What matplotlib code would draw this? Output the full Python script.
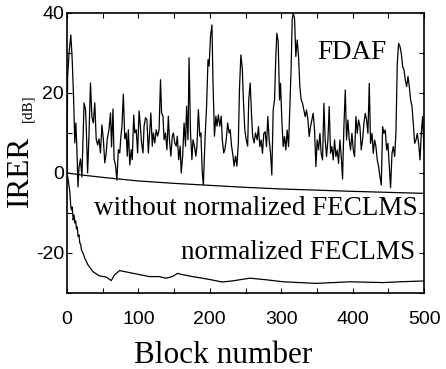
import numpy as np
import matplotlib
matplotlib.use("Agg")
import matplotlib.pyplot as plt
from matplotlib.ticker import MultipleLocator

plt.rcParams["axes.unicode_minus"] = False

# curva FDAF (leida a ojo de la figura)
fdaf_block = [0, 1, 3, 5.5, 7.5, 9.5, 11, 12.5, 14, 15.5, 17, 19, 21, 24, 26, 27, 29, 31, 33, 35,
              37, 39, 41, 43, 45, 47, 49, 51, 53, 55, 56.5, 59, 61, 62.5, 64.5, 66, 68, 70, 72, 74,
              75.5, 77, 79, 81, 83, 84.5, 86, 88, 90, 91.5, 93.5, 95, 97, 99, 101, 102.5, 104.5, 106.5, 108, 110,
              112, 114, 115.5, 117.5, 119.5, 121, 123, 125, 127, 129, 131, 132.5, 134.5, 136, 138, 140, 142, 143.5, 145.5, 147.5,
              149, 151, 153, 154.5, 156.5, 158.5, 160, 162, 164, 166, 167.5, 169.5, 171, 173, 175, 176.5, 178.5, 180.5, 182, 184,
              186, 187.5, 189.5, 191, 193.5, 195.5, 197.5, 199, 201, 203, 204.5, 206.5, 208.5, 210, 212, 214, 216, 217.5, 219.5, 221,
              223, 225, 227, 228.5, 230.5, 232.5, 234, 236, 238, 240, 241.5, 243.5, 245.5, 247, 249, 251, 253, 254.5, 256.5, 258.5,
              260, 262, 264, 266.3, 268.1, 270, 271.9, 273.7, 275.6, 277.5, 279.4, 281.2, 283.1, 285, 286.8, 288.7, 290.6, 292.4, 293.8, 295.7,
              297.6, 299, 300.8, 302.7, 304.6, 306.4, 308.3, 310.2, 312, 313.9, 315.3, 316.7, 318.6, 320.4, 322.3, 324.2, 326, 327.9, 329.8, 331.7,
              333.5, 335.4, 337.3, 339.1, 341, 342.9, 344.7, 346.6, 348.5, 350.3, 352.2, 354.1, 355.9, 357.8, 359.7, 361.5, 363.4, 365.3, 367.1, 369,
              370.9, 372.8, 374.6, 376.5, 378.4, 380.2, 382.1, 384, 385.8, 387.7, 389.6, 391.4, 393.3, 395.2, 397, 398.9, 400.8, 402.6, 404.5, 406.4,
              408.2, 410.1, 412, 413.8, 415.7, 417.6, 419.5, 421.3, 423.2, 425, 427, 428.8, 430.7, 432.5, 434.4, 436.3, 438.1, 440, 441.9, 443.7,
              445.6, 447.5, 449.3, 451.2, 453, 455, 456.8, 458.7, 460.5, 462.4, 464.3, 466.2, 468, 469.9, 471.8, 473.6, 475.5, 477.4, 479.2, 481.1,
              483, 484.8, 486.7, 488.6, 490.4, 492.3, 494.2, 496, 497.9, 499.8]
fdaf_db = [0, 24, 30, 34.5, 28, 18, 7.5, 12.5, 6, -3.5, 1.5, 3.5, -1, 17.5, 16, 12, 0, 10, 22.5, 14,
           12.5, 17.5, 8.5, 7, 8.5, 5, 12, 8.5, 2.5, 5, 8.5, 11, 15, 6.5, 16, 3.5, 2, -1.8, 5.8, 5,
           9, 11.5, 19.7, 8.5, 10, 4.2, 10.8, 2, 5.8, 3.3, 14.5, 10, 10.8, 5, 15.5, 12.5, 7.5, 5, 11.7, 13.8,
           13.3, 5, 9.2, 15, 6.7, 10, 7.5, 10.8, 9.2, 10.8, 23.3, 15, 14.2, 8.3, 10, 5.8, 14.2, 8.3, 4.2, 9.2,
           10, 7.5, 6.7, 9.2, 3.3, 6.7, 0, 4.2, 12.5, 6.7, 16.7, 8.3, 28.8, 10, 3.3, 8.3, 6.7, 4.2, 6.7, 15.8,
           9.2, 10, 0, -3, 9.2, 16.7, 28.3, 26.7, 34.2, 37, 22.5, 9.2, 14.2, 11.7, 14.5, 11.7, 14.2, 8.3, 5, 5.8,
           8.3, 12.5, 10, 10.8, 6.7, 4.2, 1.7, 4.2, 1.7, 7.9, 20.8, 29.5, 26.2, 18.3, 10.8, 8.3, 6.7, 18.3, 22.5, 14.2,
           9.2, 7.5, 10, 8.25, 11.6, 6.6, 8.25, 4.9, 9.9, 10.3, 6.6, 14.1, 8.25, 4.9, -0.5, 15.75, 18.25, 29.1, 34.9, 32.8,
           18.25, 22.4, 13.25, 6.6, 9.1, 5.75, 10.75, 6.6, 16.6, 26.6, 38.25, 40, 38.7, 29.1, 33.25, 29.1, 21.6, 18.25, 17.4, 15.75,
           14.1, 15.75, 13.25, 9.1, 11.6, 13.25, 14.9, 10.75, 1.6, 8.25, 5.75, 9.9, 4.9, 3.25, 17.4, 8.25, 4.1, 8.25, 16.6, 4.9,
           6.6, 3.25, 8.25, 4.1, 5.75, 2.4, 8.25, 4.1, -1.5, 11.6, 20.75, 8.25, 13.25, 8.25, 5.75, 9.9, 5.75, 4.1, 14.1, 9.9,
           13.25, 11.6, 5.75, 8.25, 12.4, 14.9, 13.25, 9.9, 22.4, 7.4, 9.9, 4.9, 8.25, 6.6, 3.25, 1.6, -0.9, -3, 11.6, 9.9,
           10.75, 5.75, 7.4, 1.6, -3.7, 4.9, 6.6, 4.1, 9.9, 27.4, 32.4, 31.6, 29.9, 26.6, 25.75, 23.25, 21.6, 24.1, 21.6, 18.25,
           16.6, 12.4, 7.4, 8.25, 9.9, 7.4, 3.25, 9.9, 14.1, 5.75]

# FECLMS sin normalizar
sin_block = [0, 25, 50, 100, 150, 200, 250, 300, 350, 400, 450, 500]
sin_db = [0, -0.6, -1.1, -2.0, -2.6, -3.1, -3.6, -4.0, -4.3, -4.6, -4.85, -5.1]

# FECLMS normalizado
norm_block = [0, 1.9, 4.2, 5.5, 6.5, 7.5, 8.8, 10, 11.1, 12.3, 13.4, 14.5, 15.7, 17, 18, 19.2, 20.4, 22.5, 25,
              29.6, 36.6, 45.8, 55, 62, 66.7, 73.6, 87.5, 101.4, 115.3, 129.2, 138.4, 147.7, 154.6, 161.6,
              175.5, 189.4, 203.3, 217.1, 231, 256, 279, 303, 326, 349, 373, 396, 419, 443, 466, 499]
norm_db = [0, -1.75, -5, -8.5, -9.25, -8.5, -11.75, -10.5, -12.5, -12, -14, -13.5, -15.9, -15.5, -17.5, -17.8, -19.25, -20, -21.3,
           -23, -24.7, -25.75, -26, -26.9, -25.5, -24.4, -24.9, -25.4, -25.9, -25.9, -26.3, -25.9, -25.1, -25.4,
           -25.9, -26.3, -26.75, -27.25, -27, -26.3, -26.7, -27.2, -27.4, -27.6, -27.4, -27.2, -27.3, -27.4, -27.2, -27]

serif = "Liberation Serif"
sans = "Liberation Sans"

fig = plt.figure(figsize=(4.46, 3.69), dpi=100)
ax = fig.add_axes([0.150, 0.206, 0.801, 0.759])

ax.plot(fdaf_block, fdaf_db, color="black", lw=0.9)
ax.plot(sin_block, sin_db, color="black", lw=0.9)
ax.plot(norm_block, norm_db, color="black", lw=0.9)

ax.set_xlim(0, 500)
ax.set_ylim(-30, 40)
ax.xaxis.set_major_locator(MultipleLocator(100))
ax.xaxis.set_minor_locator(MultipleLocator(50))
ax.yaxis.set_major_locator(MultipleLocator(20))
ax.yaxis.set_minor_locator(MultipleLocator(10))
ax.tick_params(which="both", direction="in", top=True, right=True, length=3.5, width=0.8)
ax.tick_params(axis="x", pad=13)
ax.tick_params(axis="y", pad=2)
for lab in ax.get_xticklabels() + ax.get_yticklabels():
    lab.set_fontfamily(sans)
    lab.set_fontsize(14)
for s in ax.spines.values():
    s.set_linewidth(1.2)

ax.text(447, 28.4, "FDAF", ha="right", va="baseline", family=serif, fontsize=19.5)
ax.text(491, -10.5, "without normalized FECLMS", ha="right", va="baseline", family=serif, fontsize=19.5)
ax.text(487, -21.5, "normalized FECLMS", ha="right", va="baseline", family=serif, fontsize=19.5)

fig.text(223 / 446, 1 - 363 / 369, "Block number", ha="center", va="baseline", family=serif, fontsize=22.5)
fig.text(0.046, 1 - 171.5 / 369, "IRER", rotation=90, ha="center", va="center", family=serif, fontsize=22.5)
fig.text(0.062, 1 - 108 / 369, "[dB]", rotation=90, ha="center", va="center", family=serif, fontsize=11)

fig.savefig("out.png", dpi=100)
